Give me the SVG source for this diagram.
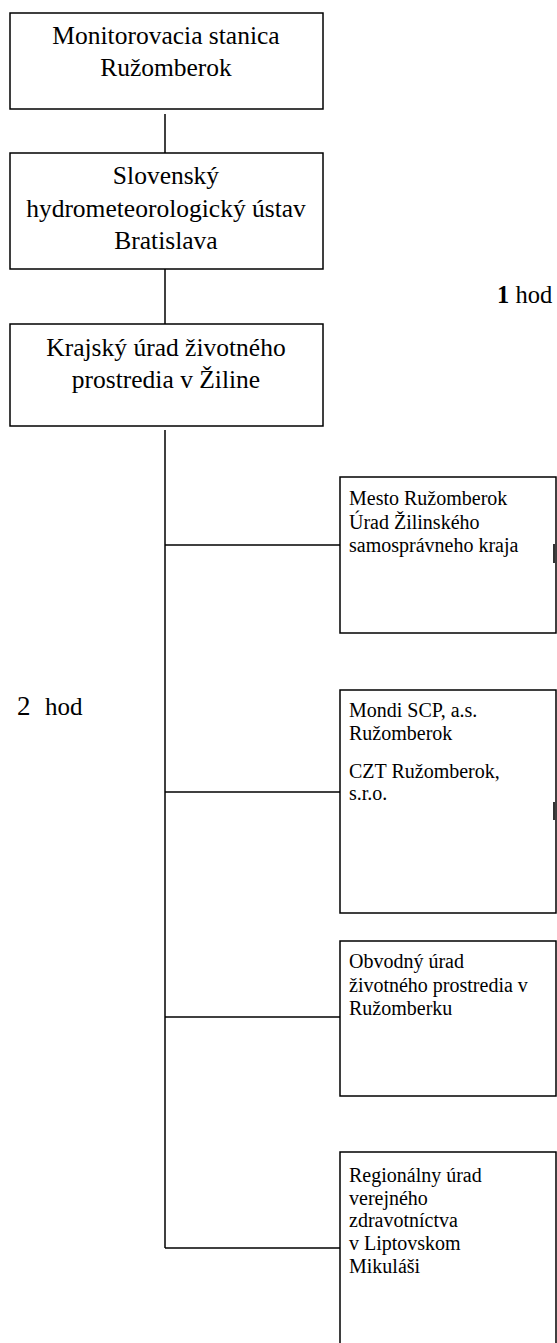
<svg xmlns="http://www.w3.org/2000/svg" width="557" height="1343" viewBox="0 0 557 1343">
<style>
.box{fill:#fff;stroke:#000;stroke-width:1.5}
.ln{stroke:#000;stroke-width:1.5;fill:none}
.big{font-family:"Liberation Serif","Times New Roman",serif;font-size:25.5px;fill:#000;text-anchor:middle}
.sm{font-family:"Liberation Serif","Times New Roman",serif;font-size:20px;fill:#000}
.lbl{font-family:"Liberation Serif","Times New Roman",serif;fill:#000}
</style>
<rect width="557" height="1343" fill="#fff"/>
<g id="connectors">
<line class="ln" x1="165" y1="114" x2="165" y2="153"/>
<line class="ln" x1="165" y1="269" x2="165" y2="324"/>
<line class="ln" x1="165" y1="430" x2="165" y2="1248"/>
<line class="ln" x1="165" y1="545" x2="340" y2="545"/>
<line class="ln" x1="165" y1="792" x2="340" y2="792"/>
<line class="ln" x1="165" y1="1017" x2="340" y2="1017"/>
<line class="ln" x1="165" y1="1248" x2="340" y2="1248"/>
</g>
<g id="n1">
<rect class="box" x="10" y="13" width="313" height="96"/>
<text class="big" x="166" y="44">Monitorovacia stanica</text>
<text class="big" x="166" y="76">Ružomberok</text>
</g>
<g id="n2">
<rect class="box" x="10" y="153" width="313" height="116"/>
<text class="big" x="166" y="184">Slovenský</text>
<text class="big" x="166" y="217">hydrometeorologický ústav</text>
<text class="big" x="166" y="249">Bratislava</text>
</g>
<g id="n3">
<rect class="box" x="10" y="324" width="313" height="102"/>
<text class="big" x="166" y="356">Krajský úrad životného</text>
<text class="big" x="166" y="388">prostredia v Žiline</text>
</g>
<g id="lbl1">
<text class="lbl" x="497" y="303" font-size="24.5"><tspan font-weight="bold">1</tspan> hod</text>
</g>
<g id="lbl2">
<text class="lbl" x="17" y="715" font-size="27">2</text>
<text class="lbl" x="45" y="715" font-size="25">hod</text>
</g>
<g id="nA">
<rect class="box" x="340" y="477" width="216" height="156"/>
<text class="sm" x="349" y="505">Mesto Ružomberok</text>
<text class="sm" x="349" y="529">Úrad Žilinského</text>
<text class="sm" x="349" y="552">samosprávneho kraja</text>
<line x1="554" y1="544" x2="554" y2="563" stroke="#333" stroke-width="2"/>
</g>
<g id="nB">
<rect class="box" x="340" y="690" width="216" height="223"/>
<text class="sm" x="349" y="717">Mondi  SCP, a.s.</text>
<text class="sm" x="349" y="740">Ružomberok</text>
<text class="sm" x="349" y="778">CZT Ružomberok,</text>
<text class="sm" x="349" y="800">s.r.o.</text>
<line x1="554" y1="802" x2="554" y2="820" stroke="#333" stroke-width="2"/>
</g>
<g id="nC">
<rect class="box" x="340" y="941" width="216" height="155"/>
<text class="sm" x="349" y="968">Obvodný úrad</text>
<text class="sm" x="349" y="992">životného prostredia v</text>
<text class="sm" x="349" y="1015">Ružomberku</text>
</g>
<g id="nD">
<rect class="box" x="340" y="1152" width="216" height="200"/>
<text class="sm" x="349" y="1182">Regionálny úrad</text>
<text class="sm" x="349" y="1205">verejného</text>
<text class="sm" x="349" y="1227">zdravotníctva</text>
<text class="sm" x="349" y="1250">v Liptovskom</text>
<text class="sm" x="349" y="1273">Mikuláši</text>
</g>
</svg>
